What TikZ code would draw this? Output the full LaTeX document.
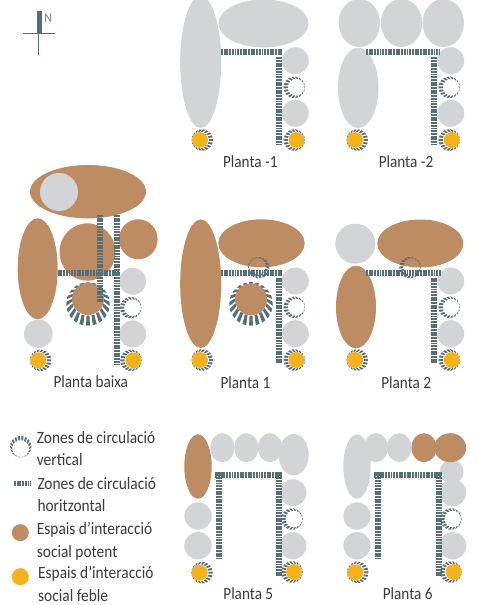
\documentclass[tikz,border=0pt]{standalone}
\usepackage{fontspec}
\setmainfont{Carlito}
\definecolor{gr}{HTML}{D2D5D7}
\definecolor{br}{HTML}{BD8C62}
\definecolor{go}{HTML}{F4B21B}
\definecolor{sl}{HTML}{546E7A}
\definecolor{tx}{HTML}{3A3A3A}
\newcommand{\blob}[5]{\fill[#5] (#1,#2) ellipse [x radius=#3, y radius=#4];}
\newcommand{\vring}[7]{%
  \pgfmathsetmacro\vri{#3-(#4+#5)/2}%
  \pgfmathsetmacro\vdd{(#4-#5)/2}%
  \pgfmathsetmacro\vix{#1-\vdd*cos(#6)}%
  \pgfmathsetmacro\viy{#2-\vdd*sin(#6)}%
  \pgfmathsetmacro\vw{0.29*360/#7}%
  \foreach \i in {1,...,#7}{%
    \pgfmathsetmacro\va{\i*360/#7}%
    \fill[sl] ({#1+#3*cos(\va-\vw)},{#2+#3*sin(\va-\vw)})
      -- ({#1+#3*cos(\va+\vw)},{#2+#3*sin(\va+\vw)})
      -- ({\vix+\vri*cos(\va+\vw)},{\viy+\vri*sin(\va+\vw)})
      -- ({\vix+\vri*cos(\va-\vw)},{\viy+\vri*sin(\va-\vw)}) -- cycle;
  }}
\newcommand{\sring}[3]{\vring{#1}{#2}{10.7}{4.2}{0.5}{#3}{18}}
\newcommand{\bring}[2]{\vring{#1}{#2}{21.8}{10}{2}{90}{20}}
\newcommand{\tall}[1]{\scalebox{1}[1.12]{#1}}
\tikzset{
  corr/.style={draw=sl,line width=6pt,dash pattern=on 1.9pt off 0.8pt},
  plan/.style={font=\fontsize{15.2}{15.2}\selectfont,text=tx,inner sep=0pt,anchor=center},
  leg/.style={font=\fontsize{15.4}{15.4}\selectfont,text=tx,inner sep=0pt,anchor=west}
}
\begin{document}
\begin{tikzpicture}[x=1pt,y=-1pt]
\useasboundingbox (0,0) rectangle (478,605);
\clip (0,0) rectangle (478,605);
% compass
\fill[sl] (37,11) rectangle (42.3,33.3);
\draw[sl,line width=1pt] (23,33.3) -- (55.3,33.3);
\draw[sl,line width=1pt] (38.3,33) -- (38.3,55);
\node[font=\fontsize{12}{12}\selectfont,text=sl!85,inner sep=0pt] (north) at (48.3,18.3) {\tall{N}};
% Planta -1
\blob{200.7}{62}{20.5}{66}{gr}
\blob{263.5}{23.5}{45}{24}{gr}
\blob{295.3}{60.7}{13.5}{13.5}{gr}
\blob{295.3}{113.3}{13.5}{13.5}{gr}
\sring{294.3}{87.3}{180}
\draw[corr] (221,52.2) -- (281.7,52.2);
\draw[corr] (279,57.3) -- (279,144);
\sring{294.3}{140}{180}\blob{296.5}{140}{8}{8}{go}
\sring{202.3}{140}{0}\blob{200}{140}{8}{8}{go}
\node[plan] (pm1) at (250.3,161.7) {\tall{Planta -1}};
% Planta -2
\blob{359.3}{23}{20.7}{24}{gr}
\blob{401.5}{23}{20.7}{24}{gr}
\blob{443.3}{23}{20.7}{24}{gr}
\blob{358.2}{87.8}{20.2}{40.2}{gr}
\blob{450.7}{60.7}{13.5}{13.5}{gr}
\blob{450.7}{113.3}{13.5}{13.5}{gr}
\sring{449.3}{87.3}{180}
\draw[corr] (366,52.2) -- (440,52.2);
\draw[corr] (434.2,57.3) -- (434.2,144);
\sring{449.3}{140}{180}\blob{451.7}{140}{8}{8}{go}
\sring{357.3}{140}{0}\blob{355}{140}{8}{8}{go}
\node[plan] (pm2) at (406,161.7) {\tall{Planta -2}};
% Planta baixa
\blob{88}{191.7}{58}{26.7}{br}
\blob{59}{192}{19}{19}{gr}
\blob{37.7}{268.8}{20}{50.5}{br}
\blob{87.5}{252}{28}{28.7}{br}
\blob{138.3}{239.3}{19.3}{20}{br}
\blob{132.7}{281.3}{13.5}{13.5}{gr}
\blob{132.7}{334}{13.5}{13.5}{gr}
\blob{38.3}{333.7}{14.3}{14.3}{gr}
\sring{130.7}{307.7}{180}
\bring{88}{304}
\blob{88}{299}{16}{16}{br}
\draw[corr] (57.7,272.8) -- (119.3,272.8);
\draw[corr] (100,215) -- (100,301.7);
\draw[corr] (117,215) -- (117,364);
\sring{131}{360.3}{180}\blob{133.3}{360.3}{8}{8}{go}
\sring{40.6}{360.3}{0}\blob{38.3}{360.3}{8}{8}{go}
\node[plan] (pb) at (90.8,381.7) {\tall{Planta baixa}};
% Planta 1
\blob{200.7}{283.7}{20.5}{64.3}{br}
\blob{261.5}{243.3}{43.2}{24}{br}
\blob{295.3}{281}{13.5}{13.5}{gr}
\blob{295.3}{333.7}{13.5}{13.5}{gr}
\sring{294.3}{307.3}{180}
\sring{258.7}{267.7}{45}
\draw[corr] (221,272.8) -- (281.7,272.8);
\draw[corr] (279,277.7) -- (279,364);
\bring{251}{303.9}
\blob{251}{299.3}{16}{16}{br}
\sring{294.3}{360}{180}\blob{296.3}{360}{8}{8}{go}
\sring{202.3}{360}{0}\blob{200}{360}{8}{8}{go}
\node[plan] (p1) at (245.5,382.3) {\tall{Planta 1}};
% Planta 2
\blob{355.3}{243.7}{20}{20}{gr}
\blob{356}{307}{20}{41.3}{br}
\blob{420.3}{243.5}{43}{24}{br}
\blob{450.7}{281}{13.5}{13.5}{gr}
\blob{450.7}{333.7}{13.5}{13.5}{gr}
\sring{449.3}{307.3}{180}
\sring{410}{267.7}{150}
\draw[corr] (366,272.8) -- (440.7,272.8);
\draw[corr] (434.2,277.7) -- (434.2,364);
\sring{449.3}{360}{180}\blob{451.7}{360}{8}{8}{go}
\sring{357.3}{360}{0}\blob{355}{360}{8}{8}{go}
\node[plan] (p2) at (406.2,382.3) {\tall{Planta 2}};
% Planta 5
\blob{198}{466.5}{13.7}{32.2}{br}
\blob{222.3}{447.7}{12}{14.5}{gr}
\blob{246.3}{447.7}{12}{14.5}{gr}
\blob{270}{447.7}{12}{14.5}{gr}
\blob{293.7}{454.7}{15}{20.7}{gr}
\blob{293}{492.7}{13.5}{13.5}{gr}
\blob{293}{545.7}{13.5}{13.5}{gr}
\blob{198}{516}{13.7}{13.7}{gr}
\blob{198}{545.7}{13.7}{13.7}{gr}
\sring{292}{519}{180}
\draw[corr] (215.3,474.7) -- (282.3,474.7);
\draw[corr] (218.5,471.7) -- (218.5,559.3);
\draw[corr] (279.3,471.7) -- (279.3,575.7);
\sring{292}{572}{180}\blob{294}{572}{8}{8}{go}
\sring{202}{572.7}{0}\blob{199.7}{572.7}{8}{8}{go}
\node[plan] (p5) at (248.3,594) {\tall{Planta 5}};
% Planta 6
\blob{357}{466.5}{13.7}{32.2}{gr}
\blob{376}{447.7}{12}{14.5}{gr}
\blob{399.3}{447.7}{12.3}{14.5}{gr}
\blob{451.7}{471.7}{12}{12}{gr}
\blob{452.7}{492.7}{13.5}{13.5}{gr}
\blob{424}{447.7}{12.5}{14.5}{br}
\blob{450.2}{447.7}{16}{14.5}{br}
\blob{452.7}{545.7}{13.7}{13.7}{gr}
\blob{357}{516}{13.7}{13.7}{gr}
\blob{357}{545.7}{13.7}{13.7}{gr}
\sring{451}{519}{180}
\draw[corr] (374.3,474.5) -- (441.7,474.5);
\draw[corr] (377.8,471.7) -- (377.8,559.3);
\draw[corr] (438.7,471.7) -- (438.7,575.7);
\sring{451}{572}{180}\blob{453.7}{572}{8}{8}{go}
\sring{357.7}{572.3}{0}\blob{355.3}{572.3}{8}{8}{go}
\node[plan] (p6) at (407.7,594) {\tall{Planta 6}};
% Legend
\sring{20.7}{446.7}{270}
\draw[corr,line width=5pt] (14,483.3) -- (30.7,483.3);
\blob{20.3}{532.7}{8.5}{8.5}{br}
\blob{20.3}{576.7}{8.5}{8.5}{go}
\node[leg] (l1) at (36.7,437.3) {\tall{Zones de circulació}};
\node[leg] (l1b) at (36.7,459.3) {\tall{vertical}};
\node[leg] (l2) at (37.3,483.3) {\tall{Zones de circulació}};
\node[leg] (l2b) at (37.3,506) {\tall{horitzontal}};
\node[leg] (l3) at (36.7,530) {\tall{Espais d’interacció}};
\node[leg] (l3b) at (36.7,552.7) {\tall{social potent}};
\node[leg] (l4) at (38,574) {\tall{Espais d'interacció}};
\node[leg] (l4b) at (38,596) {\tall{social feble}};
\end{tikzpicture}
\end{document}
